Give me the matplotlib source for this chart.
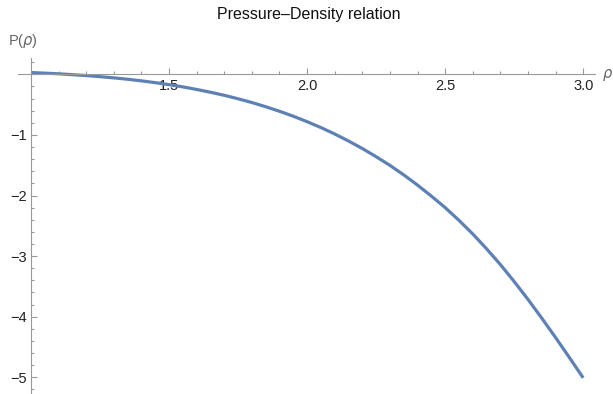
import numpy as np
import matplotlib
matplotlib.use('Agg')
import matplotlib.pyplot as plt
from matplotlib.ticker import MultipleLocator

# values
rho = [1.0, 1.05, 1.1, 1.15, 1.2, 1.25, 1.3, 1.35, 1.4, 1.45, 1.5,
       1.55, 1.6, 1.65, 1.7, 1.75, 1.8, 1.85, 1.9, 1.95, 2.0,
       2.05, 2.1, 2.15, 2.2, 2.25, 2.3, 2.35, 2.4, 2.45, 2.5,
       2.55, 2.6, 2.65, 2.7, 2.75, 2.8, 2.85, 2.9, 2.95, 3.0]
pressure = [0.030, 0.020, 0.009, -0.005, -0.020, -0.038, -0.058, -0.081, -0.107, -0.137, -0.170,
            -0.207, -0.249, -0.295, -0.346, -0.403, -0.465, -0.534, -0.609, -0.691, -0.781,
            -0.878, -0.984, -1.100, -1.224, -1.359, -1.502, -1.659, -1.828, -2.009, -2.199,
            -2.409, -2.634, -2.879, -3.139, -3.419, -3.714, -4.024, -4.344, -4.674, -5.010]
xticks = [1.5, 2.0, 2.5, 3.0]
yticks = [-1, -2, -3, -4, -5]

plt.rcParams['font.family'] = ['Liberation Sans', 'DejaVu Sans']

fig = plt.figure(figsize=(6.13, 3.94), dpi=100)
ax = fig.add_axes([0.0294, 0.0025, 0.9413, 0.8503])
ax.plot(rho, pressure, color='#5E81B5', lw=2.3, solid_capstyle='butt')

ax.set_xlim(0.953, 3.043)
ax.set_ylim(-5.26, 0.27)

axis_col = '#999999'
for s in ['top', 'right']:
    ax.spines[s].set_visible(False)
ax.spines['left'].set_position(('data', 1.0))
ax.spines['bottom'].set_position(('data', 0.0))
ax.spines['left'].set_color(axis_col)
ax.spines['bottom'].set_color(axis_col)

ax.set_xticks(xticks)
ax.set_xticklabels(['1.5', '2.0', '2.5', '3.0'])
ax.set_yticks(yticks)
ax.set_yticklabels(['\u22121', '\u22122', '\u22123', '\u22124', '\u22125'])
ax.xaxis.set_minor_locator(MultipleLocator(0.1))
ax.yaxis.set_minor_locator(MultipleLocator(0.2))
ax.tick_params(axis='both', which='both', direction='in', colors=axis_col,
               labelcolor='#222222', labelsize=10.5, pad=3)
ax.tick_params(which='major', length=4.5, width=0.8)
ax.tick_params(which='minor', length=2.5, width=0.8)

fig.text(0.503, 0.962, 'Pressure\u2013Density relation', ha='center', va='center',
         fontsize=11.5, color='#111111')
fig.text(0.013, 0.895, 'P($\\rho$)', ha='left', va='center', fontsize=10.5, color='#666666')
fig.text(0.982, 0.81, '$\\rho$', ha='left', va='center', fontsize=10.5, color='#666666')

fig.savefig('out.png', dpi=100)
